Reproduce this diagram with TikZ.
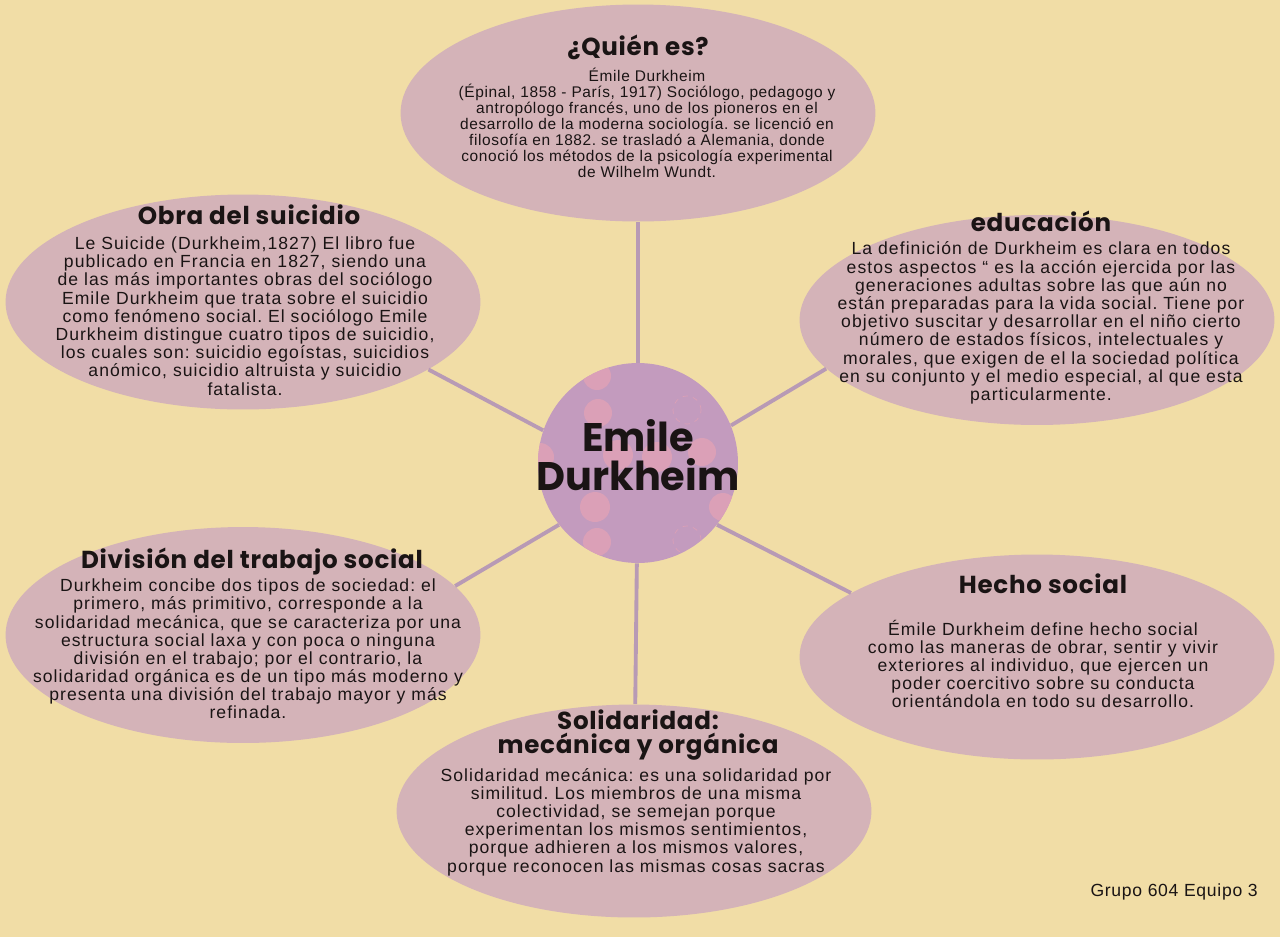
\documentclass[tikz,border=0pt]{standalone}
\usepackage{fontspec}
\setmainfont{Liberation Sans}
\newfontfamily\headfont{Poppins}[LetterSpace=3]
\newfontfamily\hubfont{Poppins}
\newfontfamily\bodyfont{Liberation Sans}[LetterSpace=6]
\newfontfamily\smallfont{Liberation Sans}[LetterSpace=4]
\usetikzlibrary{shapes.geometric}
\frenchspacing

\definecolor{bgYel}{HTML}{F1DDA6}
\definecolor{bubPk}{HTML}{D4B3B8}
\definecolor{hubPk}{HTML}{C39BBE}
\definecolor{dotPk}{HTML}{DBA0B7}
\definecolor{linkPk}{HTML}{B89AB5}
\definecolor{inkDk}{HTML}{1A1414}

\begin{document}
\begin{tikzpicture}[x=0.02cm, y=-0.02cm,
    bubble/.style={ellipse, fill=bubPk, minimum width=9.5cm, inner sep=0pt},
    ttl/.style={font=\headfont\bfseries\fontsize{14}{14}\selectfont, text=inkDk, inner sep=0pt, align=center},
    txt/.style={font=\bodyfont\fontsize{10}{10.35}\selectfont, text=inkDk, align=center, inner sep=0pt},
    link/.style={line width=2.2pt, linkPk},
    dot/.style={fill=dotPk},
]

% === Background ===
\fill[bgYel] (0,0) rectangle (1280,937);
\useasboundingbox (0,0) rectangle (1280,937);

% === Bubbles ===
\node[bubble, minimum height=4.34cm] (quien) at (638,113) {};
\node[bubble, minimum height=4.3cm] (obra) at (243,302) {};
\node[bubble, minimum height=4.2cm] (educ) at (1037,320) {};
\node[bubble, minimum height=4.32cm] (divis) at (243,635) {};
\node[bubble, minimum height=4.1cm] (hecho) at (1037,657) {};
\node[bubble, minimum height=4.26cm] (solid) at (634,811) {};

% === Hub ===
\node[circle, fill=hubPk, minimum size=4cm, inner sep=0pt] (hub) at (638,463) {};
\begin{scope}
    \clip (hub.center) circle (2cm);
    \fill[dot] (597,376) circle (0.28cm);
    \fill[dot] (598,413) circle (0.28cm);
    \fill[dot] (618,455) circle (0.3cm);
    \fill[dot] (657,457) circle (0.3cm);
    \fill[dot] (702,452) circle (0.28cm);
    \fill[dot] (540,457) circle (0.28cm);
    \fill[dot] (595,507) circle (0.3cm);
    \fill[dot] (597,542) circle (0.28cm);
    \fill[dot] (723,507) circle (0.28cm);
    \draw[dotPk, thin, dashed] (687,410) circle (0.28cm);
    \draw[dotPk, thin, dashed] (687,540) circle (0.28cm);
\end{scope}
\node[font=\hubfont\bfseries\fontsize{22.7}{22}\selectfont, text=inkDk, align=center, inner sep=0pt]
    (hubT) at (638,455) {Emile\\Durkheim};

% === Links ===
\draw[link] (hub.90) -- (quien.-90);
\draw[link] (hub.161) -- (obra.-20);
\draw[link] (hub.22) -- (educ.193);
\draw[link] (hub.218) -- (divis.13);
\draw[link] (hub.-38) -- (hecho.161);
\draw[link] (hub) -- (solid);

% === Quién es ===
\node[ttl] (quienT) at (638,47) {¿Quién es?};
\node[txt, font=\smallfont\fontsize{8.8}{9.07}\selectfont] (quienB) at (647,123)
    {Émile Durkheim\\
    (Épinal, 1858 - París, 1917) Sociólogo, pedagogo y\\
    antropólogo francés, uno de los pioneros en el\\
    desarrollo de la moderna sociología. se licenció en\\
    filosofía en 1882. se trasladó a Alemania, donde\\
    conoció los métodos de la psicología experimental\\
    de Wilhelm Wundt.};

% === Obra del suicidio ===
\node[ttl] (obraT) at (249,215) {Obra del suicidio};
\node[txt] (obraB) at (245,316)
    {Le Suicide (Durkheim,1827) El libro fue\\
    publicado en Francia en 1827, siendo una\\
    de las más importantes obras del sociólogo\\
    Emile Durkheim que trata sobre el suicidio\\
    como fenómeno social. El sociólogo Emile\\
    Durkheim distingue cuatro tipos de suicidio,\\
    los cuales son: suicidio egoístas, suicidios\\
    anómico, suicidio altruista y suicidio\\
    fatalista.};

% === Educación ===
\node[ttl] (educT) at (1041,221) {educación};
\node[txt] (educB) at (1041,323)
    {La definición de Durkheim es clara en todos\\
    estos aspectos “ es la acción ejercida por las\\
    generaciones adultas sobre las que aún no\\
    están preparadas para la vida social. Tiene por\\
    objetivo suscitar y desarrollar en el niño cierto\\
    número de estados físicos, intelectuales y\\
    morales, que exigen de el la sociedad política\\
    en su conjunto y el medio especial, al que esta\\
    particularmente.};

% === División del trabajo social ===
\node[ttl] (divisT) at (252,562) {División del trabajo social};
\node[txt] (divisB) at (248,649)
    {Durkheim concibe dos tipos de sociedad: el\\
    primero, más primitivo, corresponde a la\\
    solidaridad mecánica, que se caracteriza por una\\
    estructura social laxa y con poca o ninguna\\
    división en el trabajo; por el contrario, la\\
    solidaridad orgánica es de un tipo más moderno y\\
    presenta una división del trabajo mayor y más\\
    refinada.};

% === Hecho social ===
\node[ttl] (hechoT) at (1043,584) {Hecho social};
\node[txt] (hechoB) at (1043,664)
    {Émile Durkheim define hecho social\\
    como las maneras de obrar, sentir y vivir\\
    exteriores al individuo, que ejercen un\\
    poder coercitivo sobre su conducta\\
    orientándola en todo su desarrollo.};

% === Solidaridad ===
\node[ttl, font=\headfont\bfseries\fontsize{14}{13.5}\selectfont] (solidT) at (638,735)
    {Solidaridad:\\mecánica y orgánica};
\node[txt] (solidB) at (636,822)
    {Solidaridad mecánica: es una solidaridad por\\
    similitud. Los miembros de una misma\\
    colectividad, se semejan porque\\
    experimentan los mismos sentimientos,\\
    porque adhieren a los mismos valores,\\
    porque reconocen las mismas cosas sacras};

% Footer
\node[font=\smallfont\fontsize{10}{12}\selectfont, text=inkDk, anchor=east, inner sep=0pt]
    (firma) at (1258,892) {Grupo 604 Equipo 3};

\end{tikzpicture}
\end{document}
